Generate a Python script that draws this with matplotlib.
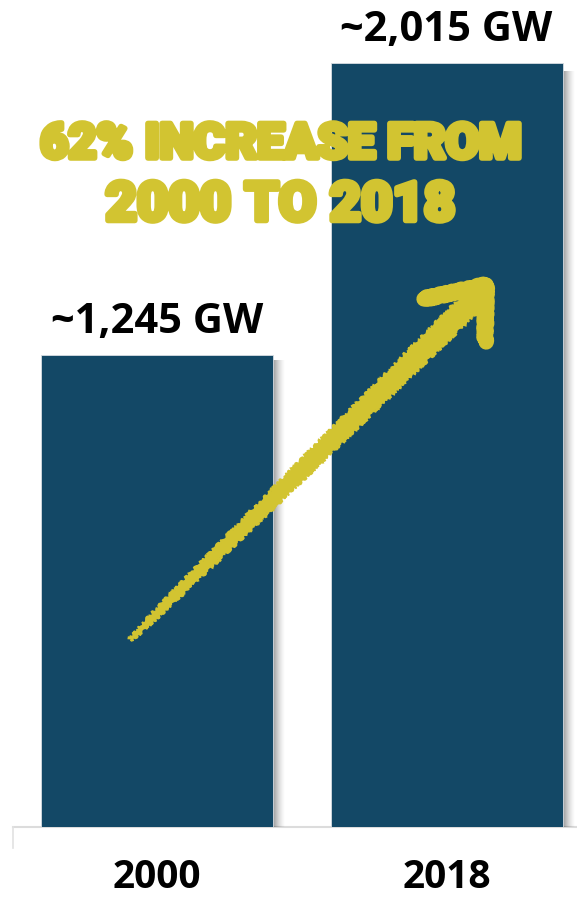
import numpy as np
import matplotlib.pyplot as plt
from matplotlib.patches import Polygon
import matplotlib.patheffects as pe

# --- data ---
years = ['2000', '2018']
capacity_gw = [1245, 2015]
value_labels = ['~1,245 GW', '~2,015 GW']
note_lines = ['62% INCREASE FROM', '2000 TO 2018']

BAR_COLOR = '#134866'
YELLOW = '#D2C431'

W, H = 577, 898
fig = plt.figure(figsize=(W / 100, H / 100), dpi=100, facecolor='white')

# main bar axes: bottom edge at the baseline (px 827 from top)
base_px = 827
ax = fig.add_axes([0, (H - base_px) / H, 1, base_px / H])
px = 1 / 289.5                      # one pixel in x data units
ax.set_xlim(-157 * px, (W - 157) * px)
ax.set_ylim(0, 2015 * base_px / 764)
ax.axis('off')

x = np.arange(len(years))
bw = 232 * px

# soft shadow on the right of each bar
n_sh = 12
for k in range(n_sh):
    a = 0.38 * (1 - k / n_sh) ** 1.5
    ax.bar(x + bw / 2 + (k + 0.5) * px, [v * 0.99 for v in capacity_gw],
           width=px, color='black', alpha=a, zorder=1, linewidth=0)
ax.bar(x, capacity_gw, width=bw, color=BAR_COLOR, edgecolor='#d8dde2',
       linewidth=0.6, zorder=2)

for xi, v, lab in zip(x, capacity_gw, value_labels):
    ax.annotate(lab, (xi, v), xytext=(0, 16), textcoords='offset points',
                ha='center', va='baseline', fontsize=30, fontweight='bold',
                family='Open Sans', color='black', zorder=5)

# baseline
ax.axhline(0, xmin=13 / W, xmax=1, color='#dcdcdc', lw=1.5, zorder=0,
           clip_on=False)
ax.plot([-144 * px, -144 * px], [0, -55], color='#e2e2e2', lw=1.2,
        clip_on=False, zorder=0)

for xi, yr in zip(x, years):
    ax.annotate(yr, (xi, 0), xytext=(0, -36), textcoords='offset points',
                ha='center', va='center', fontsize=28, fontweight='bold',
                family='Open Sans', color='black', annotation_clip=False)

# --- overlay for the hand-drawn note and arrow (pixel space) ---
ov = fig.add_axes([0, 0, 1, 1])
ov.set_xlim(0, W)
ov.set_ylim(H, 0)
ov.axis('off')
ov.patch.set_alpha(0)

stroke = [pe.withStroke(linewidth=4, foreground=YELLOW)]
ov.text(281, 145, note_lines[0], ha='center', va='center', fontsize=35,
        fontweight='black', family='Roboto', color=YELLOW,
        path_effects=stroke, zorder=6)
ov.text(280, 206, note_lines[1], ha='center', va='center', fontsize=39,
        fontweight='black', family='Roboto', color=YELLOW,
        path_effects=stroke, zorder=6)

# tapered shaft
tail = np.array([130.0, 640.0])
tip = np.array([482.0, 292.0])
d = tip - tail
u = d / np.hypot(*d)
nrm = np.array([-u[1], u[0]])
t = np.linspace(0, 1, 30)
half = 1.5 + 10.0 * t ** 0.6
pts = tail + np.outer(t, d)
left = pts + nrm * half[:, None]
right = pts - nrm * half[:, None]
shaft = Polygon(np.vstack([left, right[::-1]]), closed=True,
                facecolor=YELLOW, edgecolor=YELLOW, lw=1.2, zorder=7)
shaft.set_sketch_params(scale=1.5, length=5, randomness=6)
ov.add_patch(shaft)

for seg in ([[424, 299], [486, 285]], [[486, 285], [485, 342]]):
    seg = np.array(seg)
    ln, = ov.plot(seg[:, 0], seg[:, 1], color=YELLOW, lw=11,
                  solid_capstyle='round', zorder=7)
    ln.set_sketch_params(scale=1.5, length=5, randomness=6)

fig.savefig('out.png', dpi=100, facecolor='white')
